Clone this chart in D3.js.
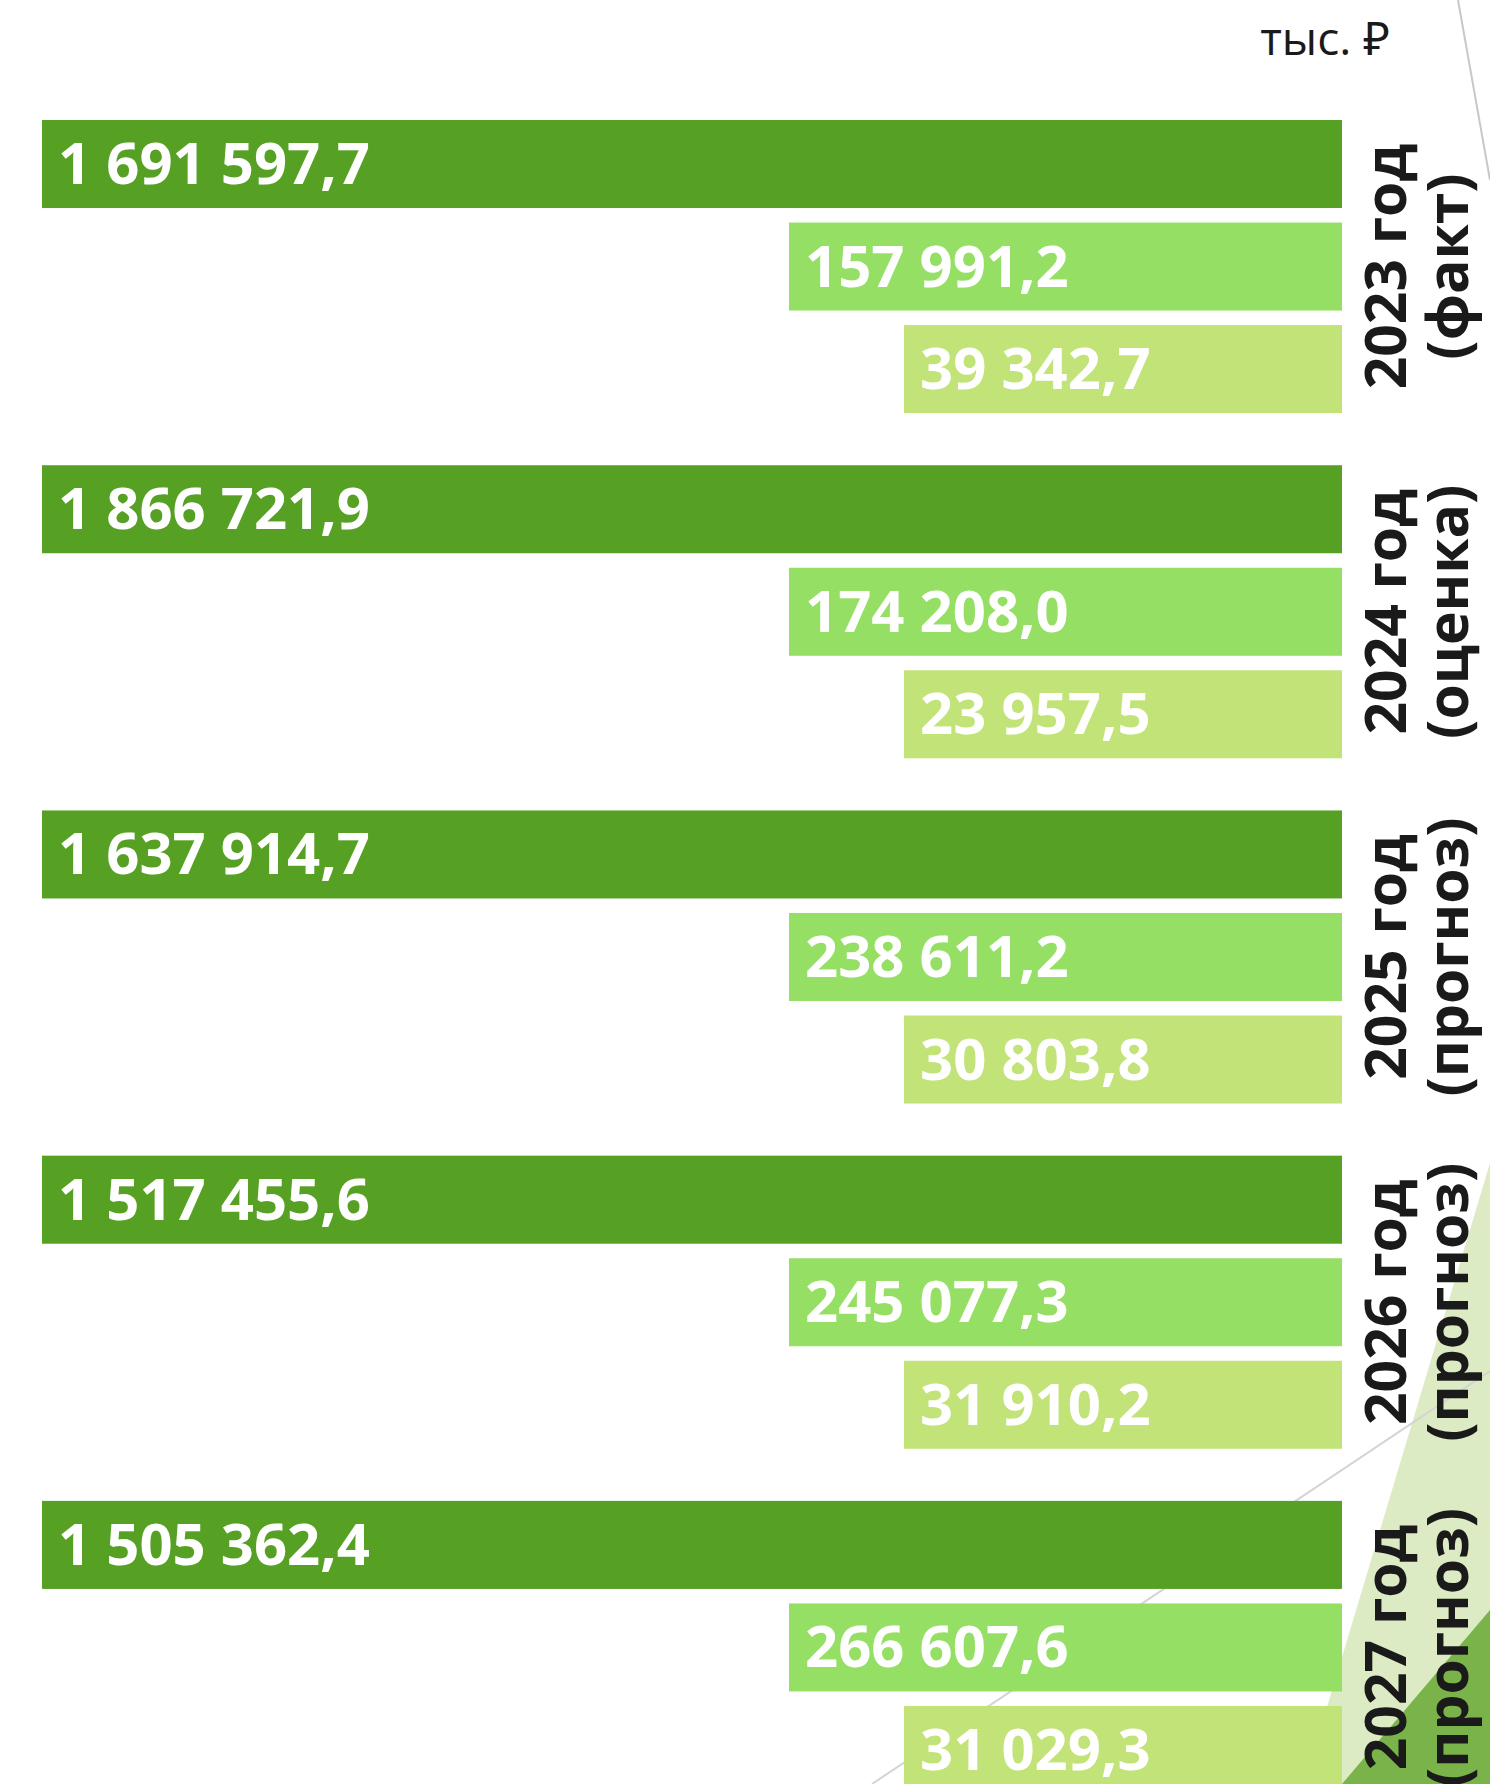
<!DOCTYPE html>
<html>
	<meta charset="utf-8">
<head>
	<script type="text/javascript" src="https://cdn.jsdelivr.net/npm/d3@7"></script>
	<title> Доходы по годам </title>
	<style>
		body { margin: 0; background: #fff; }
		svg { display: block; }
	</style>
</head>
<body>
	<script type="text/javascript">
		// data, тыс. руб.
		var years = ["2023", "2024", "2025", "2026", "2027"];
		var yearNotes = ["(факт)", "(оценка)", "(прогноз)", "(прогноз)", "(прогноз)"];
		var seriesNames = ["a", "b", "c"];
		var seriesA = [1691597.7, 1866721.9, 1637914.7, 1517455.6, 1505362.4];
		var seriesB = [157991.2, 174208.0, 238611.2, 245077.3, 266607.6];
		var seriesC = [39342.7, 23957.5, 30803.8, 31910.2, 31029.3];
		var unitLabel = "тыс. ₽";

		var w = 1490;
		var h = 1784;
		var right = 1342;

		var svg = d3.select("body")
					.append("svg")
					.attr("width", w)
					.attr("height", h)

		// decoration in the corners
		svg.append("polygon")
		   .attr("points", "1490,1163 1490,1784 1304,1784")
		   .attr("fill", "#dcebc3")
		svg.append("polygon")
		   .attr("points", "1490,1610 1490,1784 1342,1784")
		   .attr("fill", "#79b349")
		svg.append("line")
		   .attr("x1", 1458).attr("y1", 0)
		   .attr("x2", 1490).attr("y2", 180)
		   .attr("stroke", "#c8c8c8")
		   .attr("stroke-width", 2)
		svg.append("line")
		   .attr("x1", 1490).attr("y1", 1371)
		   .attr("x2", 872).attr("y2", 1784)
		   .attr("stroke", "#d4d4d4")
		   .attr("stroke-width", 2)

		var rows = [];
		years.forEach(function(y, i) {
			rows.push({year: y, s: "a", v: seriesA[i]});
			rows.push({year: y, s: "b", v: seriesB[i]});
			rows.push({year: y, s: "c", v: seriesC[i]});
		});

		var yGroup = d3.scaleBand()
					   .domain(years)
					   .range([120, 1794])
					   .paddingInner(0.151)
		var yInner = d3.scaleBand()
					   .domain(seriesNames)
					   .range([0, yGroup.bandwidth()])
					   .paddingInner(0.1415)
		// bars here are not to scale: each series has its own fixed length
		var len = d3.scaleOrdinal()
					.domain(seriesNames)
					.range([1300, 553, 438])
		var color = d3.scaleOrdinal()
					  .domain(seriesNames)
					  .range(["#56a123", "#95df65", "#c1e378"])

		var fmt = d3.formatLocale({decimal: ",", thousands: "\u00a0", grouping: [3], currency: ["", ""]}).format(",.1f");

		var bars = svg.selectAll("g.bar")
					  .data(rows)
					  .enter()
					  .append("g")
					  .attr("class", "bar")
					  .attr("transform", function(d) {
						return "translate(" + (right - len(d.s)) + "," + (yGroup(d.year) + yInner(d.s)) + ")";
					  })

		bars.append("rect")
			.attr("width", function(d) { return len(d.s); })
			.attr("height", yInner.bandwidth())
			.attr("fill", function(d) { return color(d.s); })

		bars.append("text")
			.attr("x", 16)
			.attr("y", yInner.bandwidth() / 2 + 20)
			.attr("fill", "#fff")
			.style("font-family", "'Open Sans', 'Noto Sans', sans-serif")
			.style("font-weight", 700)
			.style("font-size", "58px")
			.text(function(d) { return fmt(d.v); })

		// year labels, rotated
		var labels = svg.selectAll("g.year")
						.data(years)
						.enter()
						.append("g")
						.attr("class", "year")
						.attr("transform", function(d) {
							return "translate(" + (right + 64) + "," + (yGroup(d) + yGroup.bandwidth() / 2) + ") rotate(-90)";
						})
						.style("font-family", "'Open Sans', 'Noto Sans', sans-serif")
						.style("font-weight", 700)
						.style("font-size", "57px")
						.attr("fill", "#1a1a1a")
						.attr("text-anchor", "middle")

		labels.append("text")
			  .text(function(d) { return d + " год"; })
		labels.append("text")
			  .attr("y", 62)
			  .text(function(d, i) { return yearNotes[i]; })

		svg.append("text")
		   .attr("x", 1390)
		   .attr("y", 55)
		   .attr("text-anchor", "end")
		   .attr("fill", "#1a1a1a")
		   .style("font-family", "'Open Sans', 'Noto Sans', sans-serif")
		   .style("font-size", "46px")
		   .text(unitLabel)
	</script>
</body>
</html>
